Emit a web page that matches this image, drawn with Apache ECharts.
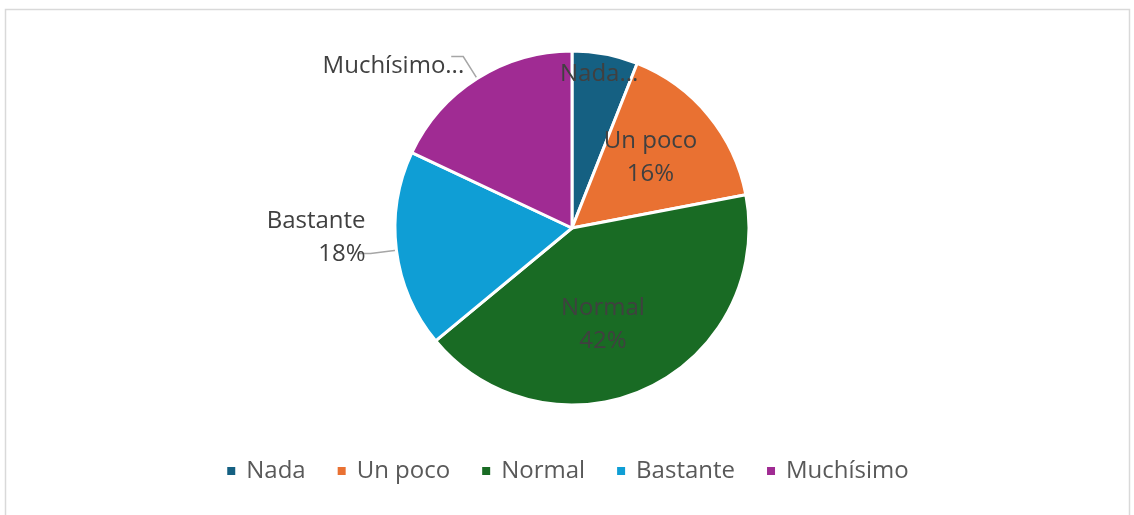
<!DOCTYPE html>
<html>
<head>
<meta charset="utf-8">
<script src="https://cdn.jsdelivr.net/npm/echarts@6/dist/echarts.min.js"></script>
<style>
  html, body { margin: 0; padding: 0; background: #fff; }
  #div-chart { width: 1134px; height: 515px; }
</style>
</head>
<body>
<div id="div-chart"></div>
<script>
var categories = ['Nada', 'Un poco', 'Normal', 'Bastante', 'Muchísimo'];
var values = [6, 16, 42, 18, 18];
var colors = ['#156082', '#E97132', '#196B24', '#0F9ED5', '#A02B93'];
// Excel cut some labels short
var labelTexts = ['Nada...', null, null, null, 'Muchísimo...'];
var outsideLabels = ['Bastante', 'Muchísimo'];

var myChart = echarts.init(document.getElementById('div-chart'));

// small nudges so the inside labels sit where Excel put them
var labelOffsets = {
    'Nada': [10, -64],
    'Un poco': [8, -12],
    'Normal': [-8, 14]
};
// nudges for the outside labels (line follows)
var labelShifts = {
    'Bastante': [12, -16],
    'Muchísimo': [18, 10]
};

var pieData = categories.map(function (name, i) {
    var item = { name: name, value: values[i], itemStyle: { color: colors[i] } };
    var label = {};
    if (labelTexts[i]) {
        label.formatter = labelTexts[i];
    }
    if (outsideLabels.indexOf(name) >= 0) {
        label.position = 'outside';
        item.labelLine = { show: true };
    }
    if (labelOffsets[name]) {
        label.offset = labelOffsets[name];
    }
    item.label = label;
    return item;
});

option = {
    animation: false,
    textStyle: { fontFamily: 'Open Sans' },
    graphic: [{
        type: 'rect',
        shape: { x: 5.5, y: 9.5, width: 1124, height: 520 },
        style: { fill: 'none', stroke: '#d9d9d9', lineWidth: 1.5 },
        silent: true
    }],
    legend: {
        data: categories,
        bottom: 27,
        left: 'center',
        itemWidth: 10,
        itemHeight: 10,
        itemGap: 30,
        icon: 'rect',
        textStyle: {
            fontSize: 24,
            color: '#595959',
            fontFamily: 'Open Sans',
            padding: [0, 0, 0, 5]
        }
    },
    series: [{
        type: 'pie',
        center: [572, 228],
        radius: 177,
        startAngle: 90,
        clockwise: true,
        itemStyle: { borderColor: '#fff', borderWidth: 3 },
        label: {
            show: true,
            position: 'inside',
            formatter: '{b}\n{d}%',
            fontSize: 24,
            lineHeight: 33,
            color: '#404040',
            fontFamily: 'Open Sans'
        },
        labelLine: {
            length: 26,
            length2: 12,
            lineStyle: { color: '#a6a6a6', width: 1.5 }
        },
        labelLayout: function (params) {
            var s = labelShifts[categories[params.dataIndex]];
            if (s) {
                return { dx: s[0], dy: s[1] };
            }
            return {};
        },
        emphasis: { disabled: true },
        data: pieData
    }]
};

myChart.setOption(option);
</script>
</body>
</html>
